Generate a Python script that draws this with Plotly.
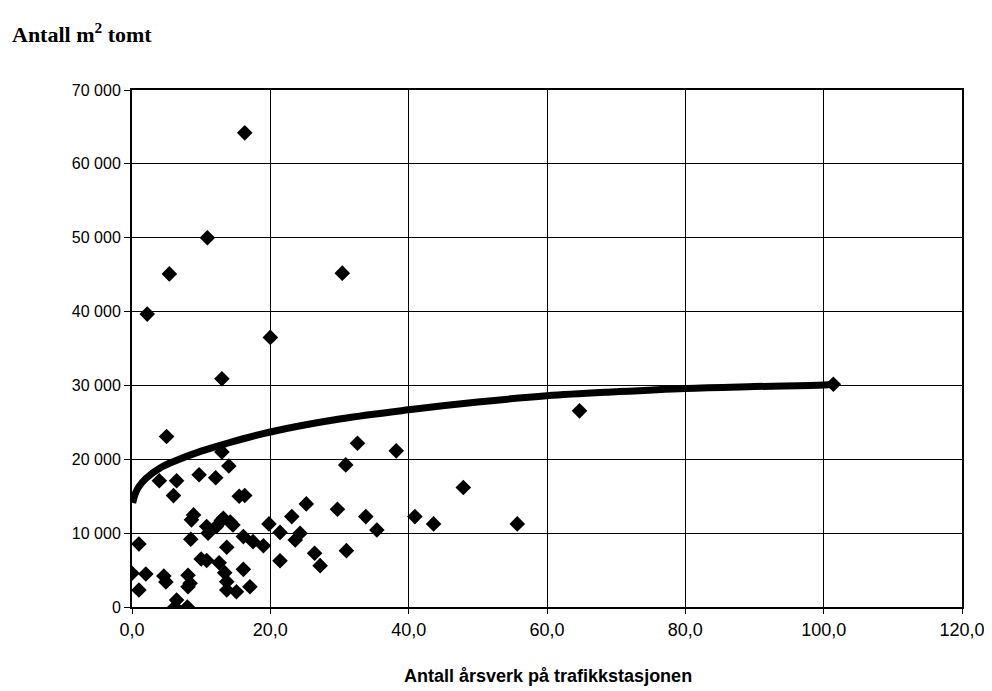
import plotly.graph_objects as go

# Scatter data: (årsverk, m2 tomt)
arsverk = [16.3, 10.9, 5.4, 2.2, 30.4, 20.0, 13.0,
           5.0, 13.0, 14.0, 3.95, 6.45, 9.7, 12.1, 6.0, 15.5, 16.3,
           8.9, 8.6, 10.8, 13.2, 14.6, 12.2, 11.0, 19.8, 21.4, 23.1, 25.2,
           24.3, 23.6, 1.0, 8.5, 16.1, 17.5, 19.0, 13.7, 21.4, 10.0, 10.8,
           12.6, 16.1, 0.0, 2.0, 4.6, 4.9, 8.1, 8.4, 13.4, 13.7, 1.0, 8.1,
           13.7, 15.1, 17.05, 6.45, 6.2, 8.0,
           101.4, 64.7, 32.6, 38.2, 30.9, 47.9, 29.7, 33.8, 40.9, 43.6,
           55.7, 35.4, 26.4, 27.2, 31.0, 12.9, 14.2]
tomt = [64200, 50000, 45100, 39660, 45200, 36500, 30900,
        23080, 21000, 19100, 17100, 17100, 17900, 17500, 15080, 15000, 15100,
        12470, 11800, 10900, 12000, 11100, 10900, 10000, 11250, 10100, 12240, 13960,
        9990, 9080, 8540, 9170, 9530, 8850, 8300, 8090, 6270, 6500, 6300,
        6000, 5100, 4560, 4470, 4200, 3400, 4300, 3200, 4650, 3430, 2300, 2750,
        2300, 2070, 2750, 950, 0, 0,
        30150, 26560, 22180, 21140, 19240, 16170, 13240, 12240, 12240, 11250,
        11250, 10430, 7270, 5600, 7630, 11700, 11500]

# Trendline
trend_x = [0.1, 0.5, 1, 2, 4, 6.3, 10, 13.5, 20, 30, 40, 50, 60, 70, 80, 90, 100, 101.4]
trend_y = [14100, 15400, 16300, 17400, 18800, 19800, 21100, 22100, 23700, 25450,
           26700, 27750, 28600, 29150, 29600, 29850, 30050, 30150]

x_ticks = [0, 20, 40, 60, 80, 100, 120]
x_labels = ["0,0", "20,0", "40,0", "60,0", "80,0", "100,0", "120,0"]
y_ticks = [0, 10000, 20000, 30000, 40000, 50000, 60000, 70000]
y_labels = ["0", "10 000", "20 000", "30 000", "40 000", "50 000", "60 000", "70 000"]

fig = go.Figure()
fig.add_trace(go.Scatter(
    x=trend_x, y=trend_y, mode="lines", line=dict(color="black", width=7, shape="spline"),
    hoverinfo="skip", showlegend=False))
fig.add_trace(go.Scatter(
    x=arsverk, y=tomt, mode="markers",
    marker=dict(symbol="diamond", size=12, color="black"), showlegend=False))

plot_l, plot_t, plot_w, plot_h = 124, 82, 830, 517
fig_w, fig_h = 984, 680
fig.update_layout(
    width=fig_w, height=fig_h,
    margin=dict(l=plot_l, r=fig_w - plot_l - plot_w, t=plot_t, b=fig_h - plot_t - plot_h),
    paper_bgcolor="white", plot_bgcolor="white",
    xaxis=dict(range=[0, 120], tickvals=x_ticks, ticktext=x_labels, automargin=False,
               showgrid=True, gridcolor="black", gridwidth=1,
               showline=True, linecolor="black", linewidth=2, mirror=True,
               ticks="outside", ticklen=5, tickcolor="black",
               tickfont=dict(family="Liberation Sans, Arial", size=18, color="black"),
               zeroline=False),
    yaxis=dict(range=[0, 70000], tickvals=y_ticks, ticktext=y_labels, automargin=False,
               showgrid=True, gridcolor="black", gridwidth=1,
               showline=True, linecolor="black", linewidth=2, mirror=True,
               ticks="outside", ticklen=6, tickcolor="black",
               tickfont=dict(family="Liberation Sans, Arial", size=16, color="black"),
               zeroline=False),
    annotations=[
        dict(text="<b>Antall m<sup>2</sup> tomt</b>", xref="paper", yref="paper",
             x=(2 - plot_l) / plot_w, y=1 + (plot_t - 25) / plot_h,
             xanchor="left", yanchor="middle", showarrow=False,
             font=dict(family="Liberation Serif, Times New Roman", size=22, color="black")),
        dict(text="<b>Antall årsverk på trafikkstasjonen</b>", xref="paper", yref="paper",
             x=(540 - plot_l) / plot_w, y=-(668 - plot_t - plot_h) / plot_h,
             xanchor="center", yanchor="middle", showarrow=False,
             font=dict(family="Liberation Sans, Arial", size=18, color="black")),
    ],
)

fig.write_html("out.html")
